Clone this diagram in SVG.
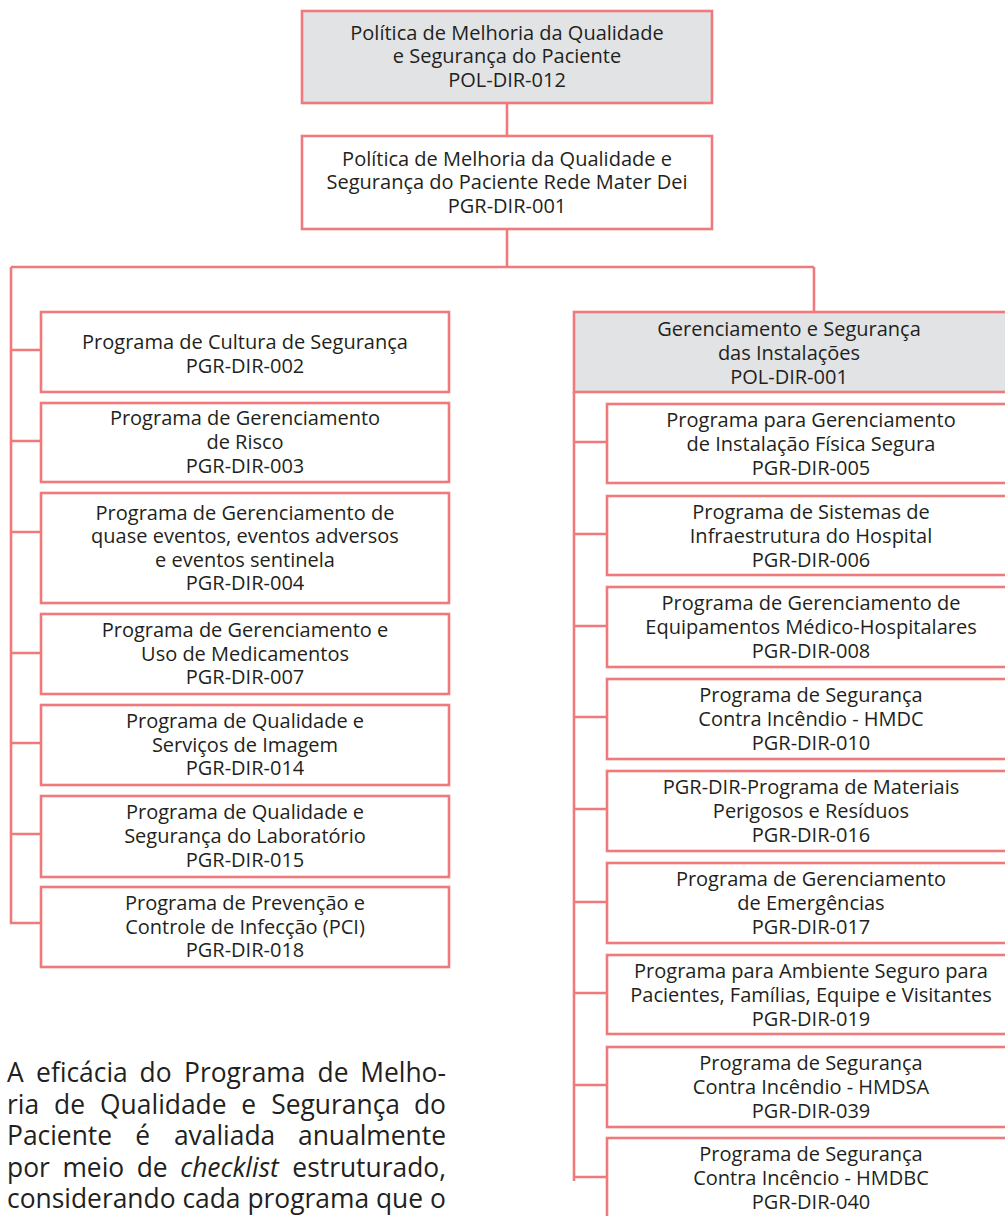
<svg xmlns="http://www.w3.org/2000/svg" width="1005" height="1216" viewBox="0 0 1005 1216">
<style>
.box{fill:#ffffff;stroke:#f07a7b;stroke-width:2.6}
.gbox{fill:#e2e3e5;stroke:#f07a7b;stroke-width:2.6}
.ln{fill:none;stroke:#f07a7b;stroke-width:2.6}
.t{font-family:"Open Sans","Noto Sans","DejaVu Sans",sans-serif;font-size:20px;fill:#231f20;text-anchor:middle}
.p{font-family:"Open Sans","Noto Sans","DejaVu Sans",sans-serif;font-size:26.4px;fill:#231f20}
.e{text-anchor:end}
.i{font-style:italic}
</style>
<rect width="1005" height="1216" fill="#ffffff"/>
<g id="connectors">
<path class="ln" d="M507,103V136M507,229V267M11,267H814M814,267V312"/>
<path class="ln" d="M11,267V923H41M11,350H41M11,441H41M11,532H41M11,653H41M11,743H41M11,834H41"/>
<path class="ln" d="M574,392V1181M574,442H607M574,534H607M574,626H607M574,717H607M574,809H607M574,902H607M574,993H607M574,1085H607M574,1177H607"/>
</g>
<g id="n-pol012"><rect class="gbox" x="302" y="11" width="410" height="92"/>
<text class="t" x="507" y="39.5">Política de Melhoria da Qualidade</text><text class="t" x="507" y="63">e Segurança do Paciente</text><text class="t" x="507" y="86.5">POL-DIR-012</text></g>
<g id="n-pgr001"><rect class="box" x="302" y="136" width="410" height="93"/>
<text class="t" x="507" y="165.5">Política de Melhoria da Qualidade e</text><text class="t" x="507" y="189">Segurança do Paciente Rede Mater Dei</text><text class="t" x="507" y="212.6">PGR-DIR-001</text></g>

<g id="n-pgr002"><rect class="box" x="41" y="312" width="408" height="80"/>
<text class="t" x="245" y="349">Programa de Cultura de Segurança</text><text class="t" x="245" y="373">PGR-DIR-002</text></g>
<g id="n-pgr003"><rect class="box" x="41" y="403" width="408" height="79"/>
<text class="t" x="245" y="425.4">Programa de Gerenciamento</text><text class="t" x="245" y="449">de Risco</text><text class="t" x="245" y="472.6">PGR-DIR-003</text></g>
<g id="n-pgr004"><rect class="box" x="41" y="493" width="408" height="110"/>
<text class="t" x="245" y="519.5">Programa de Gerenciamento de</text><text class="t" x="245" y="543.1">quase eventos, eventos adversos</text><text class="t" x="245" y="566.7">e eventos sentinela</text><text class="t" x="245" y="590.3">PGR-DIR-004</text></g>
<g id="n-pgr007"><rect class="box" x="41" y="614" width="408" height="80"/>
<text class="t" x="245" y="637.1">Programa de Gerenciamento e</text><text class="t" x="245" y="660.7">Uso de Medicamentos</text><text class="t" x="245" y="684.3">PGR-DIR-007</text></g>
<g id="n-pgr014"><rect class="box" x="41" y="705" width="408" height="80"/>
<text class="t" x="245" y="728.1">Programa de Qualidade e</text><text class="t" x="245" y="751.7">Serviços de Imagem</text><text class="t" x="245" y="775.3">PGR-DIR-014</text></g>
<g id="n-pgr015"><rect class="box" x="41" y="796" width="408" height="81"/>
<text class="t" x="245" y="819.4">Programa de Qualidade e</text><text class="t" x="245" y="843">Segurança do Laboratório</text><text class="t" x="245" y="866.6">PGR-DIR-015</text></g>
<g id="n-pgr018"><rect class="box" x="41" y="887" width="408" height="80"/>
<text class="t" x="245" y="910.1">Programa de Prevenção e</text><text class="t" x="245" y="933.7">Controle de Infecção (PCI)</text><text class="t" x="245" y="957.3">PGR-DIR-018</text></g>

<g id="n-pol001"><rect class="gbox" x="574" y="312" width="440" height="80"/>
<text class="t" x="789" y="336">Gerenciamento e Segurança</text><text class="t" x="789" y="360">das Instalações</text><text class="t" x="789" y="384">POL-DIR-001</text></g>
<g id="n-pgr005"><rect class="box" x="607" y="404" width="420" height="79"/>
<text class="t" x="811" y="427.4">Programa para Gerenciamento</text><text class="t" x="811" y="451">de Instalação Física Segura</text><text class="t" x="811" y="474.6">PGR-DIR-005</text></g>
<g id="n-pgr006"><rect class="box" x="607" y="496" width="420" height="79"/>
<text class="t" x="811" y="519.4">Programa de Sistemas de</text><text class="t" x="811" y="543">Infraestrutura do Hospital</text><text class="t" x="811" y="566.6">PGR-DIR-006</text></g>
<g id="n-pgr008"><rect class="box" x="607" y="587" width="420" height="80"/>
<text class="t" x="811" y="610.4">Programa de Gerenciamento de</text><text class="t" x="811" y="634">Equipamentos Médico-Hospitalares</text><text class="t" x="811" y="657.6">PGR-DIR-008</text></g>
<g id="n-pgr010"><rect class="box" x="607" y="679" width="420" height="80"/>
<text class="t" x="811" y="702.4">Programa de Segurança</text><text class="t" x="811" y="726">Contra Incêndio - HMDC</text><text class="t" x="811" y="749.6">PGR-DIR-010</text></g>
<g id="n-pgr016"><rect class="box" x="607" y="771" width="420" height="80"/>
<text class="t" x="811" y="794.4">PGR-DIR-Programa de Materiais</text><text class="t" x="811" y="818">Perigosos e Resíduos</text><text class="t" x="811" y="841.6">PGR-DIR-016</text></g>
<g id="n-pgr017"><rect class="box" x="607" y="863" width="420" height="80"/>
<text class="t" x="811" y="886.4">Programa de Gerenciamento</text><text class="t" x="811" y="910">de Emergências</text><text class="t" x="811" y="933.6">PGR-DIR-017</text></g>
<g id="n-pgr019"><rect class="box" x="607" y="955" width="420" height="79"/>
<text class="t" x="811" y="978.4">Programa para Ambiente Seguro para</text><text class="t" x="811" y="1002">Pacientes, Famílias, Equipe e Visitantes</text><text class="t" x="811" y="1025.6">PGR-DIR-019</text></g>
<g id="n-pgr039"><rect class="box" x="607" y="1047" width="420" height="80"/>
<text class="t" x="811" y="1070.4">Programa de Segurança</text><text class="t" x="811" y="1094">Contra Incêndio - HMDSA</text><text class="t" x="811" y="1117.6">PGR-DIR-039</text></g>
<g id="n-pgr040"><rect class="box" x="607" y="1138" width="420" height="100"/>
<text class="t" x="811" y="1161.4">Programa de Segurança</text><text class="t" x="811" y="1185">Contra Incêncio - HMDBC</text><text class="t" x="811" y="1208.6">PGR-DIR-040</text></g>

<g id="paragraph">
<text class="p" y="1082"><tspan x="7">A</tspan><tspan x="36.1">eficácia</tspan><tspan x="139.6">do</tspan><tspan x="184">Programa</tspan><tspan x="317.6">de</tspan></text>
<text class="p e" x="446" y="1082">Melho-</text>
<text class="p" y="1113.5"><tspan x="7">ria</tspan><tspan x="54.1">de</tspan><tspan x="100.1">Qualidade</tspan><tspan x="241.2">e</tspan><tspan x="271.2">Segurança</tspan></text>
<text class="p e" x="446" y="1113.5">do</text>
<text class="p" y="1145"><tspan x="7">Paciente</tspan><tspan x="135.3">é</tspan><tspan x="173.9">avaliada</tspan></text>
<text class="p e" x="446" y="1145">anualmente</text>
<text class="p" y="1176.5"><tspan x="7">por</tspan><tspan x="62.4">meio</tspan><tspan x="136.7">de</tspan><tspan x="180.2" class="i">checklist</tspan></text>
<text class="p e" x="446" y="1176.5">estruturado,</text>
<text class="p" x="7" y="1208">considerando cada programa que o</text>
</g>
</svg>
